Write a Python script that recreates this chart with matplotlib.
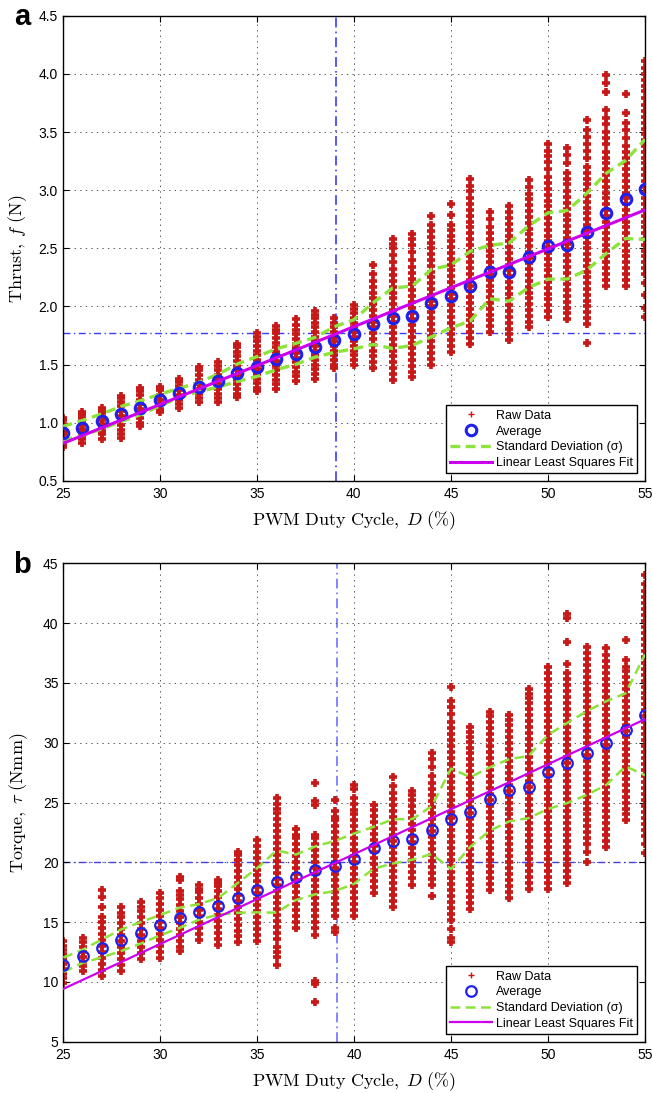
import numpy as np
import matplotlib
matplotlib.use("Agg")
import matplotlib.pyplot as plt

# ---------------- data ----------------
duty = list(range(25, 56))

avg_thrust = [0.908, 0.954, 1.011, 1.075, 1.129, 1.195, 1.256, 1.307, 1.362, 1.431,
              1.483, 1.546, 1.592, 1.649, 1.716, 1.761, 1.853, 1.899, 1.920, 2.029,
              2.086, 2.175, 2.296, 2.296, 2.428, 2.520, 2.531, 2.643, 2.800, 2.920, 3.006]
sigma_thrust = [0.06, 0.065, 0.065, 0.065, 0.06, 0.05, 0.04, 0.04, 0.055, 0.075,
                0.085, 0.09, 0.09, 0.085, 0.11, 0.125, 0.18, 0.26, 0.255, 0.29,
                0.27, 0.30, 0.23, 0.25, 0.265, 0.285, 0.295, 0.33, 0.345, 0.335, 0.43]

avg_torque = [11.44, 12.14, 12.81, 13.50, 14.11, 14.75, 15.36, 15.86, 16.33, 17.03,
              17.67, 18.39, 18.75, 19.33, 19.69, 20.31, 21.22, 21.75, 21.92, 22.69,
              23.64, 24.22, 25.30, 26.03, 26.30, 27.56, 28.31, 29.14, 29.97, 31.08, 32.33]
sigma_torque = [0.6, 0.55, 0.75, 0.9, 0.9, 0.85, 0.85, 0.65, 0.7, 1.25,
                1.85, 2.6, 1.9, 2.0, 2.1, 2.1, 1.75, 1.85, 1.7, 2.0,
                4.2, 2.9, 2.65, 2.6, 2.6, 3.1, 3.35, 3.5, 3.5, 3.05, 5.05]

fit_duty = [25, 55]
fit_thrust = [0.822, 2.83]
fit_torque = [9.42, 31.96]

ref_duty = 39.1
ref_thrust = 1.77
ref_torque = 20.0

raw_thrust = [
    [0.79, 0.81, 0.84, 0.87, 0.90, 0.93, 0.96, 0.99, 1.02, 1.04],
    [0.83, 0.86, 0.89, 0.92, 0.95, 0.98, 1.01, 1.04, 1.07, 1.09],
    [0.86, 0.90, 0.93, 0.96, 0.99, 1.02, 1.05, 1.08, 1.11, 1.13],
    [0.87, 0.90, 0.94, 0.98, 1.02, 1.06, 1.10, 1.14, 1.18, 1.21, 1.23],
    [0.97, 1.00, 1.04, 1.08, 1.12, 1.16, 1.20, 1.24, 1.27, 1.30],
    [1.09, 1.12, 1.16, 1.20, 1.24, 1.28, 1.31],
    [1.13, 1.16, 1.20, 1.24, 1.28, 1.32, 1.35, 1.38],
    [1.18, 1.21, 1.25, 1.29, 1.33, 1.37, 1.41, 1.45, 1.48],
    [1.18, 1.21, 1.25, 1.29, 1.33, 1.37, 1.41, 1.45, 1.49, 1.52],
    [1.22, 1.25, 1.29, 1.33, 1.37, 1.41, 1.45, 1.49, 1.53, 1.57, 1.61, 1.65, 1.68],
    [1.27, 1.30, 1.34, 1.38, 1.42, 1.46, 1.50, 1.54, 1.58, 1.62, 1.66, 1.70, 1.74, 1.77],
    [1.29, 1.33, 1.37, 1.41, 1.45, 1.49, 1.53, 1.57, 1.61, 1.65, 1.69, 1.73, 1.77, 1.80, 1.83],
    [1.36, 1.40, 1.44, 1.48, 1.52, 1.56, 1.60, 1.64, 1.68, 1.72, 1.76, 1.80, 1.84, 1.89],
    [1.38, 1.42, 1.46, 1.50, 1.54, 1.58, 1.62, 1.66, 1.70, 1.74, 1.78, 1.82, 1.86, 1.90, 1.93, 1.96],
    [1.47, 1.50, 1.54, 1.58, 1.62, 1.66, 1.70, 1.74, 1.78, 1.82, 1.86, 1.90],
    [1.50, 1.54, 1.58, 1.62, 1.66, 1.70, 1.74, 1.78, 1.82, 1.86, 1.90, 1.94, 1.98, 2.01],
    [1.47, 1.52, 1.57, 1.62, 1.67, 1.72, 1.77, 1.82, 1.87, 1.92, 1.97, 2.02, 2.07, 2.12,
     2.17, 2.22, 2.28, 2.36],
    [1.37, 1.42, 1.47, 1.52, 1.57, 1.62, 1.67, 1.72, 1.77, 1.82, 1.87, 1.92, 1.97, 2.02,
     2.07, 2.12, 2.17, 2.22, 2.27, 2.32, 2.38, 2.44, 2.50, 2.54, 2.58],
    [1.39, 1.44, 1.49, 1.54, 1.59, 1.64, 1.69, 1.74, 1.79, 1.84, 1.89, 1.94, 1.99, 2.04,
     2.09, 2.14, 2.19, 2.24, 2.29, 2.34, 2.40, 2.47, 2.53, 2.58, 2.62],
    [1.50, 1.55, 1.60, 1.65, 1.70, 1.75, 1.80, 1.85, 1.90, 1.95, 2.00, 2.05, 2.10, 2.15,
     2.20, 2.25, 2.30, 2.35, 2.40, 2.45, 2.50, 2.55, 2.60, 2.65, 2.70, 2.78],
    [1.61, 1.66, 1.71, 1.76, 1.81, 1.86, 1.91, 1.96, 2.01, 2.06, 2.11, 2.16, 2.21, 2.26,
     2.31, 2.36, 2.41, 2.46, 2.51, 2.56, 2.61, 2.66, 2.70, 2.79, 2.88],
    [1.68, 1.73, 1.78, 1.83, 1.88, 1.93, 1.98, 2.03, 2.08, 2.13, 2.18, 2.23, 2.28, 2.33,
     2.38, 2.43, 2.48, 2.53, 2.58, 2.63, 2.68, 2.73, 2.78, 2.83, 2.88, 2.93, 2.99, 3.04, 3.10],
    [1.78, 1.83, 1.88, 1.93, 1.98, 2.03, 2.08, 2.13, 2.18, 2.23, 2.28, 2.33, 2.38, 2.43,
     2.48, 2.53, 2.58, 2.63, 2.68, 2.75, 2.81],
    [1.71, 1.76, 1.81, 1.86, 1.91, 1.96, 2.01, 2.06, 2.11, 2.16, 2.21, 2.26, 2.31, 2.36,
     2.41, 2.46, 2.51, 2.56, 2.61, 2.66, 2.71, 2.76, 2.81, 2.86],
    [1.82, 1.87, 1.92, 1.97, 2.02, 2.07, 2.12, 2.17, 2.22, 2.27, 2.32, 2.37, 2.42, 2.47,
     2.52, 2.57, 2.62, 2.67, 2.72, 2.77, 2.82, 2.87, 2.92, 2.97, 3.03, 3.09],
    [1.91, 1.96, 2.01, 2.06, 2.11, 2.16, 2.21, 2.26, 2.31, 2.36, 2.41, 2.46, 2.51, 2.56,
     2.61, 2.66, 2.71, 2.76, 2.81, 2.86, 2.91, 2.96, 3.01, 3.06, 3.11, 3.18, 3.24, 3.29,
     3.34, 3.40],
    [1.89, 1.94, 1.99, 2.04, 2.09, 2.14, 2.19, 2.24, 2.29, 2.34, 2.39, 2.44, 2.49, 2.54,
     2.59, 2.64, 2.69, 2.74, 2.79, 2.84, 2.89, 2.94, 2.99, 3.05, 3.10, 3.15, 3.23, 3.30, 3.36],
    [1.69, 1.85, 1.90, 1.95, 2.00, 2.05, 2.10, 2.15, 2.20, 2.25, 2.30, 2.35, 2.40, 2.45,
     2.50, 2.55, 2.60, 2.65, 2.70, 2.75, 2.80, 2.85, 2.90, 2.95, 3.00, 3.05, 3.10, 3.15,
     3.20, 3.28, 3.34, 3.40, 3.46, 3.52, 3.60],
    [2.18, 2.23, 2.28, 2.33, 2.38, 2.43, 2.48, 2.53, 2.58, 2.63, 2.68, 2.73, 2.78, 2.83,
     2.88, 2.93, 2.98, 3.03, 3.08, 3.13, 3.18, 3.23, 3.28, 3.33, 3.40, 3.45, 3.50, 3.57,
     3.62, 3.69, 3.84, 3.92, 3.99],
    [2.18, 2.23, 2.28, 2.33, 2.38, 2.43, 2.48, 2.53, 2.58, 2.63, 2.68, 2.73, 2.78, 2.83,
     2.88, 2.93, 2.98, 3.03, 3.08, 3.13, 3.18, 3.23, 3.28, 3.33, 3.38, 3.45, 3.52, 3.58,
     3.66, 3.83],
    [1.91, 1.99, 2.10, 2.20, 2.28, 2.33, 2.38, 2.43, 2.48, 2.53, 2.58, 2.63, 2.68, 2.73,
     2.78, 2.83, 2.88, 2.93, 2.98, 3.03, 3.08, 3.13, 3.18, 3.23, 3.28, 3.33, 3.38, 3.43,
     3.48, 3.53, 3.58, 3.63, 3.68, 3.73, 3.79, 3.85, 3.90, 3.95, 4.00, 4.05, 4.11],
]

raw_torque = [
    [9.9, 10.3, 10.7, 11.1, 11.5, 11.9, 12.3, 12.7, 13.0, 13.4],
    [10.9, 11.3, 11.7, 12.1, 12.5, 12.9, 13.3, 13.7],
    [10.5, 11.0, 11.5, 12.0, 12.5, 13.0, 13.5, 14.0, 14.5, 15.0, 15.4, 16.3, 17.1, 17.7],
    [10.9, 11.4, 11.9, 12.4, 12.9, 13.4, 13.9, 14.4, 14.9, 15.4, 15.8, 16.3],
    [11.9, 12.4, 12.9, 13.4, 13.9, 14.4, 14.9, 15.4, 15.9, 16.3, 16.7],
    [12.0, 12.5, 13.0, 13.5, 14.0, 14.5, 15.0, 15.5, 16.0, 16.5, 17.0, 17.4],
    [12.6, 12.9, 13.4, 13.9, 14.4, 14.9, 15.4, 15.9, 16.4, 16.9, 17.3, 17.6, 18.5, 18.8],
    [13.5, 14.0, 14.5, 15.0, 15.5, 16.0, 16.5, 17.0, 17.5, 17.8, 18.1],
    [13.1, 13.6, 14.1, 14.6, 15.1, 15.6, 16.1, 16.6, 17.1, 17.6, 18.0, 18.3, 18.5],
    [13.3, 13.8, 14.3, 14.8, 15.3, 15.8, 16.3, 16.8, 17.3, 17.8, 18.3, 18.8, 19.3, 19.8,
     20.2, 20.6, 20.9],
    [13.4, 13.9, 14.4, 14.9, 15.4, 15.9, 16.4, 16.9, 17.4, 17.9, 18.4, 18.9, 19.4, 19.9,
     20.4, 20.9, 21.4, 21.9],
    [11.4, 12.1, 12.5, 12.9, 13.6, 14.1, 14.6, 15.1, 15.6, 16.1, 16.6, 17.1, 17.6, 18.1,
     18.6, 19.1, 19.6, 20.1, 20.6, 21.1, 21.6, 22.1, 22.6, 23.1, 23.6, 24.1, 24.5, 24.9, 25.4],
    [14.5, 15.0, 15.5, 16.0, 16.5, 17.0, 17.5, 18.0, 18.5, 19.0, 19.5, 20.0, 20.5, 21.0,
     21.5, 22.0, 22.3, 22.8],
    [8.3, 9.8, 10.1, 13.9, 14.5, 15.0, 15.5, 16.0, 16.5, 17.0, 17.5, 18.0, 18.5, 19.0,
     19.5, 20.0, 20.5, 21.0, 21.5, 22.0, 22.3, 24.8, 25.1, 26.6],
    [14.2, 14.5, 15.5, 16.0, 16.5, 17.0, 17.5, 18.0, 18.5, 19.0, 19.5, 20.0, 20.5, 21.0,
     21.5, 22.0, 22.5, 23.0, 23.5, 23.8, 24.3, 25.2],
    [15.5, 16.0, 16.5, 17.0, 17.5, 18.0, 18.5, 19.0, 19.5, 20.0, 20.5, 21.0, 21.5, 22.0,
     22.5, 23.0, 23.5, 24.0, 24.4, 24.9, 25.4, 26.1, 26.5],
    [17.4, 17.9, 18.4, 18.9, 19.4, 19.9, 20.4, 20.9, 21.4, 21.9, 22.4, 22.9, 23.4, 23.9,
     24.4, 24.8],
    [16.3, 16.8, 17.3, 17.8, 18.3, 18.8, 19.3, 19.8, 20.3, 20.8, 21.3, 21.8, 22.3, 22.8,
     23.3, 23.8, 24.3, 24.8, 25.3, 25.8, 26.4, 27.1],
    [18.1, 18.7, 19.2, 19.7, 20.2, 20.7, 21.2, 21.7, 22.2, 22.7, 23.2, 23.7, 24.2, 24.7,
     25.2, 25.6, 26.0],
    [17.2, 18.1, 18.6, 19.1, 19.6, 20.1, 20.6, 21.1, 21.6, 22.1, 22.6, 23.1, 23.6, 24.1,
     24.6, 25.1, 25.6, 26.1, 26.6, 27.2, 28.0, 28.6, 29.1],
    [13.3, 13.7, 14.4, 15.2, 15.7, 16.2, 16.7, 17.2, 17.7, 18.2, 18.7, 19.2, 19.7, 20.2,
     20.7, 21.2, 21.7, 22.2, 22.7, 23.2, 23.7, 24.2, 24.7, 25.2, 25.7, 26.2, 26.7, 27.2,
     27.7, 28.2, 28.7, 29.2, 29.7, 30.2, 30.7, 31.2, 31.7, 32.4, 33.0, 33.5, 34.7],
    [16.1, 16.6, 17.1, 17.6, 18.1, 18.6, 19.1, 19.6, 20.1, 20.6, 21.1, 21.6, 22.1, 22.6,
     23.1, 23.6, 24.1, 24.6, 25.1, 25.6, 26.1, 26.6, 27.1, 27.6, 28.1, 28.6, 29.1, 29.6,
     30.1, 30.5, 30.9, 31.3],
    [17.7, 18.2, 18.7, 19.2, 19.7, 20.2, 20.7, 21.2, 21.7, 22.2, 22.7, 23.2, 23.7, 24.2,
     24.7, 25.2, 25.7, 26.2, 26.7, 27.2, 27.7, 28.2, 28.7, 29.2, 29.7, 30.2, 30.7, 31.2,
     31.7, 32.2, 32.6],
    [17.0, 17.5, 18.0, 18.5, 19.0, 19.5, 20.0, 20.5, 21.0, 21.5, 22.0, 22.5, 23.0, 23.5,
     24.0, 24.5, 25.0, 25.5, 26.0, 26.5, 27.0, 27.5, 28.0, 28.5, 29.0, 29.5, 30.0, 30.5,
     31.0, 31.5, 31.9, 32.3],
    [17.8, 18.3, 18.8, 19.3, 19.8, 20.3, 20.8, 21.3, 21.8, 22.3, 22.8, 23.3, 23.8, 24.3,
     24.8, 25.3, 25.8, 26.3, 26.8, 27.3, 27.8, 28.3, 28.8, 29.3, 29.8, 30.3, 30.8, 31.3,
     31.8, 32.3, 32.8, 33.3, 33.7, 34.1, 34.5],
    [17.8, 18.3, 18.8, 19.3, 19.8, 20.3, 20.8, 21.3, 21.8, 22.3, 22.8, 23.3, 23.8, 24.3,
     24.8, 25.3, 25.8, 26.3, 26.8, 27.3, 27.8, 28.3, 28.8, 29.3, 29.8, 30.3, 30.8, 31.3,
     31.8, 32.3, 32.8, 33.3, 33.8, 34.3, 34.8, 35.3, 35.8, 36.3],
    [18.3, 18.8, 19.3, 19.8, 20.3, 20.8, 21.3, 21.8, 22.3, 22.8, 23.3, 23.8, 24.3, 24.8,
     25.3, 25.8, 26.3, 26.8, 27.3, 27.8, 28.3, 28.8, 29.3, 29.8, 30.3, 30.8, 31.3, 31.8,
     32.3, 32.8, 33.3, 33.8, 34.3, 34.8, 35.3, 35.8, 36.6, 38.4, 40.4, 40.8],
    [20.0, 20.9, 21.5, 22.0, 22.5, 23.0, 23.5, 24.0, 24.5, 25.0, 25.5, 26.0, 26.5, 27.0,
     27.5, 28.0, 28.5, 29.0, 29.5, 30.0, 30.5, 31.0, 31.5, 32.0, 32.5, 33.0, 33.5, 34.0,
     34.5, 35.0, 35.5, 36.0, 36.5, 37.0, 37.5, 38.0],
    [21.3, 21.8, 22.3, 22.8, 23.3, 23.8, 24.3, 24.8, 25.3, 25.8, 26.3, 26.8, 27.3, 27.8,
     28.3, 28.8, 29.3, 29.8, 30.3, 30.8, 31.3, 31.8, 32.3, 32.8, 33.3, 33.8, 34.3, 34.8,
     35.3, 35.8, 36.3, 36.8, 37.3, 37.9],
    [23.5, 24.0, 24.5, 25.0, 25.5, 26.0, 26.5, 27.0, 27.5, 28.0, 28.5, 29.0, 29.5, 30.0,
     30.5, 31.0, 31.5, 32.0, 32.5, 33.0, 33.5, 34.0, 34.5, 35.0, 35.5, 36.0, 36.3, 36.9, 38.6],
    [20.8, 21.5, 22.2, 22.7, 23.2, 23.7, 24.2, 24.7, 25.2, 25.7, 26.2, 26.7, 27.2, 27.7,
     28.2, 28.7, 29.2, 29.7, 30.2, 30.7, 31.2, 31.7, 32.2, 32.7, 33.2, 33.7, 34.2, 34.7,
     35.2, 35.7, 36.2, 36.7, 37.2, 37.7, 38.2, 38.7, 39.2, 39.7, 40.2, 40.7, 41.2, 41.7,
     42.2, 42.7, 43.3, 44.0],
]

xticks = [25, 30, 35, 40, 45, 50, 55]
yticks_thrust = [0.5, 1.0, 1.5, 2.0, 2.5, 3.0, 3.5, 4.0, 4.5]
yticks_torque = [5, 10, 15, 20, 25, 30, 35, 40, 45]
legend_labels = ["Raw Data", "Average", "Standard Deviation (\u03c3)", "Linear Least Squares Fit"]

# ---------------- style ----------------
plt.rcParams["font.family"] = ["Liberation Sans", "DejaVu Sans"]
plt.rcParams["mathtext.fontset"] = "cm"
plt.rcParams["lines.scale_dashes"] = False

RED = "#c81919"
BLUE = "#1f1fee"
GREEN = "#8ce33c"
MAGENTA = "#cc00ee"
REFBLUE = "#3a3aff"

fig = plt.figure(figsize=(6.52, 10.93), dpi=100)
ax_a = fig.add_axes([0.0962, 0.5600, 0.8930, 0.4256])
ax_b = fig.add_axes([0.0971, 0.0469, 0.8921, 0.4377])


def draw(ax, raw, avg, sigma, fit, ref_y, yticks, ylabel, big):
    xs, ys = [], []
    for d, vals in zip(duty, raw):
        xs.extend([d] * len(vals))
        ys.extend(vals)
    avg = np.array(avg)
    sigma = np.array(sigma)

    ax.axvline(ref_duty, color=REFBLUE if big else "#7070ff", lw=1.2,
               linestyle=(0, (7, 3, 1.2, 3)), zorder=1)
    ax.axhline(ref_y, color=REFBLUE, lw=1.0, linestyle=(0, (5, 2.5, 1, 2.5)), zorder=1)

    h_raw, = ax.plot(xs, ys, "+", color=RED, ms=5.6, mew=2.6, zorder=2)
    h_avg, = ax.plot(duty, avg, "o", mfc="none", mec=BLUE, ms=7.6,
                     mew=2.2 if big else 1.6, zorder=4)
    h_std, = ax.plot(duty, avg + sigma, color=GREEN, lw=2.4 if big else 1.8,
                     linestyle=(0, (7, 4)), zorder=3)
    ax.plot(duty, avg - sigma, color=GREEN, lw=2.4 if big else 1.8,
            linestyle=(0, (7, 4)), zorder=3)
    h_fit, = ax.plot(fit_duty, fit, color=MAGENTA, lw=2.2 if big else 1.6, zorder=5)

    ax.set_xlim(25, 55)
    ax.set_ylim(yticks[0], yticks[-1])
    ax.set_xticks(xticks)
    ax.set_yticks(yticks)
    if big:
        ax.set_yticklabels(["%.1f" % t for t in yticks])
    ax.tick_params(direction="in", top=True, right=True, length=4, width=0.8,
                   labelsize=10, colors="black")
    ax.tick_params(axis="x", pad=4.5)
    ax.tick_params(axis="y", pad=3.5)
    ax.grid(True, linestyle=(0, (1, 3)), color="0.35", lw=0.7)
    for s in ax.spines.values():
        s.set_linewidth(1.0)
    ax.set_xlabel(r"$\mathrm{PWM\ Duty\ Cycle,}\;D\ \mathrm{(\%)}$", fontsize=13, labelpad=6)
    ax.set_ylabel(ylabel, fontsize=13)
    ax.yaxis.set_label_coords(-0.058, 0.5)

    leg = ax.legend([h_raw, h_avg, h_std, h_fit], legend_labels, loc="lower right",
                    fontsize=9, numpoints=1, handlelength=3.3, handletextpad=0.35,
                    labelspacing=0.3, borderpad=0.35, borderaxespad=0.6,
                    fancybox=False, framealpha=1, edgecolor="black")
    leg.get_frame().set_linewidth(1.0)
    leg.legend_handles[0].set_markersize(4.6)
    leg.legend_handles[0].set_markeredgewidth(1.0)


draw(ax_a, raw_thrust, avg_thrust, sigma_thrust, fit_thrust, ref_thrust, yticks_thrust,
     r"$\mathrm{Thrust,}\;f\ \mathrm{(N)}$", True)
draw(ax_b, raw_torque, avg_torque, sigma_torque, fit_torque, ref_torque, yticks_torque,
     r"$\mathrm{Torque,}\;\tau\ \mathrm{(Nmm)}$", False)

fig.text(0.022, 0.977, "a", fontsize=21, fontweight="bold", va="baseline")
fig.text(0.020, 0.4758, "b", fontsize=21, fontweight="bold", va="baseline")

fig.savefig("out.png", dpi=100)
